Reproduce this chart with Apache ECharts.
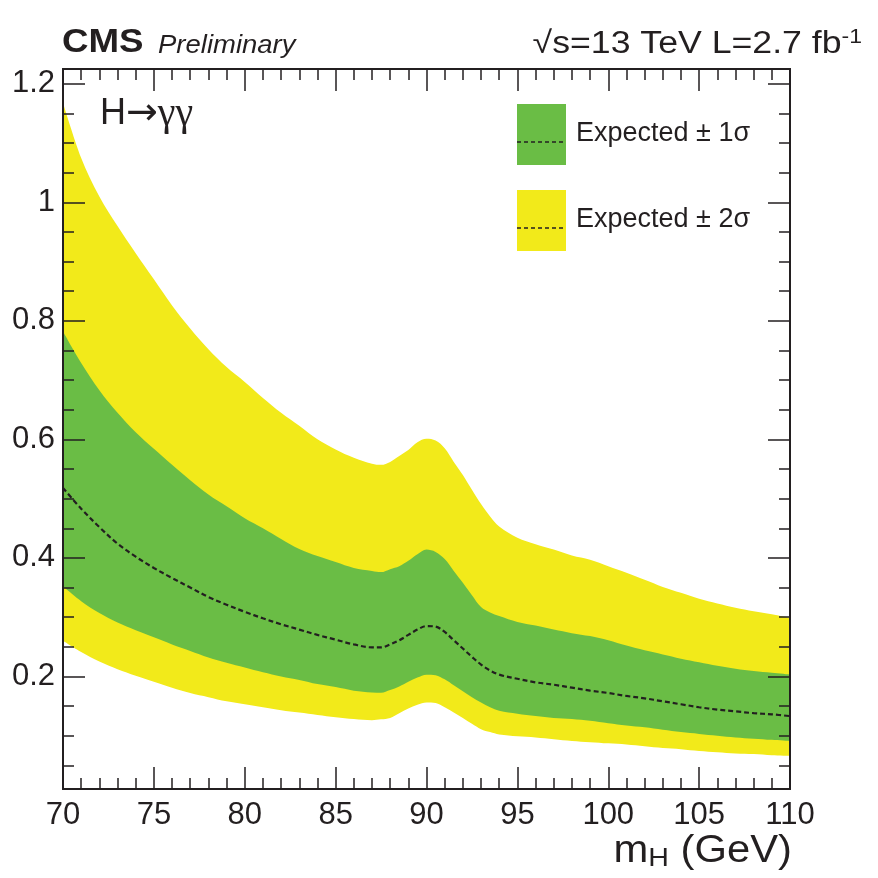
<!DOCTYPE html>
<html>
<head>
<meta charset="utf-8">
<script src="https://cdn.jsdelivr.net/npm/echarts@6/dist/echarts.min.js"></script>
<style>
    html, body { margin: 0; padding: 0; background: #fff; }
    #chart { width: 878px; height: 878px; }
</style>
</head>
<body>
<div id="chart"></div>
<script>
// mH points (GeV)
const mass = [70, 71, 72, 73, 74, 75, 76, 77, 78, 79, 80, 81, 82, 83, 84, 85, 86, 87, 87.5,
    88, 88.5, 89, 89.5, 90, 90.5, 91, 91.5, 92, 92.5, 93, 93.5, 94,
    95, 96, 97, 98, 99, 100, 101, 102, 103, 104, 105, 106, 107, 108, 109, 110];

// expected limit and bands
const up2 = [1.168, 1.075, 1.010, 0.960, 0.914, 0.870, 0.826, 0.787, 0.752, 0.722, 0.697, 0.670, 0.645, 0.623, 0.600, 0.583, 0.569, 0.559, 0.557,
    0.562, 0.572, 0.582, 0.595, 0.601, 0.598, 0.585, 0.562, 0.540, 0.515, 0.491, 0.470, 0.453,
    0.434, 0.423, 0.414, 0.404, 0.397, 0.386, 0.375, 0.363, 0.351, 0.341, 0.331, 0.323, 0.316, 0.310, 0.305, 0.299];
const up1 = [0.782, 0.729, 0.683, 0.645, 0.612, 0.584, 0.557, 0.531, 0.507, 0.487, 0.467, 0.450, 0.432, 0.415, 0.403, 0.393, 0.383, 0.378, 0.376,
    0.381, 0.386, 0.395, 0.406, 0.414, 0.410, 0.398, 0.378, 0.358, 0.337, 0.317, 0.308, 0.302,
    0.292, 0.286, 0.279, 0.273, 0.268, 0.261, 0.252, 0.244, 0.237, 0.230, 0.224, 0.218, 0.213, 0.209, 0.206, 0.203];
const median = [0.518, 0.483, 0.452, 0.424, 0.402, 0.383, 0.366, 0.350, 0.334, 0.321, 0.309, 0.298, 0.288, 0.279, 0.270, 0.262, 0.254, 0.249, 0.249,
    0.254, 0.261, 0.270, 0.279, 0.285, 0.284, 0.275, 0.261, 0.247, 0.233, 0.220, 0.210, 0.203,
    0.196, 0.190, 0.186, 0.181, 0.176, 0.172, 0.167, 0.163, 0.158, 0.153, 0.148, 0.144, 0.141, 0.138, 0.136, 0.133];
const lo1 = [0.352, 0.327, 0.307, 0.291, 0.278, 0.266, 0.254, 0.243, 0.232, 0.223, 0.215, 0.207, 0.200, 0.194, 0.187, 0.182, 0.176, 0.173, 0.1725,
    0.177, 0.183, 0.191, 0.198, 0.203, 0.202, 0.195, 0.185, 0.175, 0.165, 0.156, 0.148, 0.142,
    0.137, 0.133, 0.130, 0.128, 0.125, 0.121, 0.117, 0.114, 0.110, 0.106, 0.103, 0.100, 0.097, 0.095, 0.093, 0.091];
const lo2 = [0.260, 0.241, 0.225, 0.212, 0.201, 0.191, 0.181, 0.172, 0.165, 0.158, 0.153, 0.148, 0.143, 0.139, 0.135, 0.131, 0.128, 0.126, 0.1275,
    0.130, 0.138, 0.146, 0.152, 0.156, 0.155, 0.148, 0.139, 0.130, 0.120, 0.111, 0.106, 0.102,
    0.099, 0.097, 0.094, 0.091, 0.089, 0.087, 0.085, 0.082, 0.079, 0.077, 0.074, 0.072, 0.070, 0.069, 0.067, 0.066];

const yMajor = [0.2, 0.4, 0.6, 0.8, 1, 1.2];
const yMinor = [0.05, 0.1, 0.15, 0.25, 0.3, 0.35, 0.45, 0.5, 0.55, 0.65, 0.7, 0.75,
    0.85, 0.9, 0.95, 1.05, 1.1, 1.15];

const green = '#6abd45',
    yellow = '#f2ea1a',
    ink = '#231f20',
    font = 'Liberation Sans';

let pairs = vals => mass.map((m, i) => [m, vals[i]]);

// each band edge is filled down to the axis, painted in order so the
// later (lower) edges cover the earlier ones
let edgeSeries = (name, vals, color, z) => ({
    name: name,
    type: 'line',
    data: pairs(vals),
    smooth: 0.35,
    symbol: 'none',
    lineStyle: {width: 0, color: color},
    itemStyle: {color: color},
    areaStyle: {color: color, opacity: 1, origin: 'start'},
    silent: true,
    z: z
});

let xAx = (pos, labels) => ({
    type: 'value',
    position: pos,
    min: 70,
    max: 110,
    interval: 5,
    z: 5,
    axisLine: {show: true, lineStyle: {color: ink, width: 2}},
    axisTick: {show: true, inside: true, length: 22, lineStyle: {color: ink, width: 1.5}},
    minorTick: {show: true, splitNumber: 5, length: 11, lineStyle: {color: ink, width: 1.5}},
    axisLabel: {show: labels, fontSize: 31, fontFamily: font, color: ink, margin: 11},
    splitLine: {show: false},
    minorSplitLine: {show: false}
});

let yAx = (pos, ticks, len, labels) => ({
    type: 'value',
    position: pos,
    min: 0.01,
    max: 1.225,
    z: 5,
    axisLine: {show: true, lineStyle: {color: ink, width: 2}},
    axisTick: {show: true, inside: true, length: len, customValues: ticks, lineStyle: {color: ink, width: 1.5}},
    axisLabel: {show: labels, customValues: ticks, fontSize: 31, fontFamily: font, color: ink, margin: 8},
    splitLine: {show: false}
});

let chart = echarts.init(document.getElementById('chart'));

let option = {
    backgroundColor: '#fff',
    animation: false,
    grid: {left: 63, right: 88, top: 69, bottom: 89},
    xAxis: [xAx('bottom', true), xAx('top', false)],
    yAxis: [
        yAx('left', yMajor, 22, true),
        yAx('left', yMinor, 11, false),
        yAx('right', yMajor, 22, false),
        yAx('right', yMinor, 11, false)
    ],
    series: [
        edgeSeries('+2s', up2, yellow, 1),
        edgeSeries('+1s', up1, green, 2),
        edgeSeries('-1s', lo1, yellow, 3),
        edgeSeries('-2s', lo2, '#ffffff', 4),
        {
            name: 'Expected',
            type: 'line',
            data: pairs(median),
            smooth: 0.35,
            symbol: 'none',
            lineStyle: {color: ink, width: 2.2, type: [5, 3]},
            silent: true,
            z: 4.5
        }
    ],
    graphic: [
        {type: 'text', x: 62, y: 43, scaleX: 1.08, style: {text: 'CMS', font: 'bold 34px ' + font, fill: ink, verticalAlign: 'middle'}},
        {type: 'text', x: 158, y: 46, scaleX: 1.1, style: {text: 'Preliminary', font: 'italic 25px ' + font, fill: ink, verticalAlign: 'middle'}},
        {type: 'text', x: 862, y: 44, scaleX: 1.15, style: {
            text: '√s=13 TeV L=2.7 fb{sup|-1}',
            align: 'right', verticalAlign: 'middle',
            font: '31px ' + font, fill: ink,
            rich: {sup: {fontSize: 20, fontFamily: font, fill: ink, verticalAlign: 'top', padding: [0, 0, 14, 0]}}
        }},
        {type: 'text', x: 100, y: 114, z: 10, style: {
            text: '{a|H}{b|→}{c|γγ}',
            verticalAlign: 'middle',
            rich: {
                a: {fontSize: 36, fontFamily: font, fill: ink},
                b: {fontSize: 38, fontFamily: 'DejaVu Sans', fill: ink},
                c: {fontSize: 40, fontFamily: 'Liberation Serif', fill: ink}
            }
        }},
        // legend
        {type: 'rect', shape: {x: 517, y: 104, width: 49, height: 61}, style: {fill: green}, z: 10},
        {type: 'line', shape: {x1: 517, y1: 142, x2: 566, y2: 142}, style: {stroke: ink, lineWidth: 1.3, lineDash: [4, 3]}, z: 11},
        {type: 'text', x: 576, y: 134, z: 10, style: {text: 'Expected ± 1σ', font: '27px ' + font, fill: ink, verticalAlign: 'middle'}},
        {type: 'rect', shape: {x: 517, y: 190, width: 49, height: 61}, style: {fill: yellow}, z: 10},
        {type: 'line', shape: {x1: 517, y1: 228, x2: 566, y2: 228}, style: {stroke: ink, lineWidth: 1.3, lineDash: [4, 3]}, z: 11},
        {type: 'text', x: 576, y: 220, z: 10, style: {text: 'Expected ± 2σ', font: '27px ' + font, fill: ink, verticalAlign: 'middle'}},
        // axis title
        {type: 'text', x: 792, y: 852, scaleX: 1.1, style: {
            text: 'm{sub|H} (GeV)',
            align: 'right', verticalAlign: 'middle',
            font: '38px ' + font, fill: ink,
            rich: {sub: {fontSize: 26, fontFamily: font, fill: ink, verticalAlign: 'bottom', padding: [14, 0, 0, 0]}}
        }}
    ]
};

chart.setOption(option);
</script>
</body>
</html>
